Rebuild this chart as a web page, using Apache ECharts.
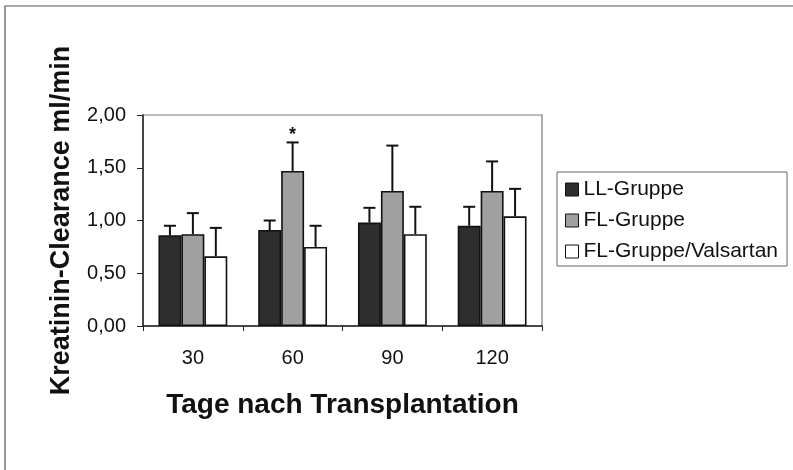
<!DOCTYPE html>
<html>
<head>
<meta charset="utf-8">
<script src="https://cdn.jsdelivr.net/npm/echarts@6/dist/echarts.min.js"></script>
<style>
  html, body { margin: 0; padding: 0; background: #fff; }
  #chart { width: 793px; height: 470px; }
</style>
</head>
<body>
<div id="chart"></div>
<script>
// Days after transplantation
const days = ['30', '60', '90', '120'];

// Creatinine clearance, mean values (ml/min)
const llMean  = [0.86, 0.91, 0.98, 0.95];
const flMean  = [0.87, 1.47, 1.28, 1.28];
const flvMean = [0.66, 0.75, 0.87, 1.04];

// Standard deviations (drawn upward from the bar top)
const llSd  = [0.09, 0.09, 0.14, 0.18];
const flSd  = [0.20, 0.27, 0.43, 0.28];
const flvSd = [0.27, 0.20, 0.26, 0.26];

// Significance marks per day for the FL group
const flSig = ['', '*', '', ''];

const groupNames = ['LL-Gruppe', 'FL-Gruppe', 'FL-Gruppe/Valsartan'];
const fills = ['#2e2e2e', '#a0a0a0', '#ffffff'];

const CATEGORY_GAP = 0.31;
const FONT = 'Arial, "Liberation Sans", sans-serif';

function errorSeries(means, sds, slot, marks) {
  return {
    type: 'custom',
    silent: true,
    z: 5,
    data: means.map((m, i) => [i, m, m + sds[i], marks ? marks[i] : '']),
    renderItem: function (params, api) {
      const idx = api.value(0);
      const base = api.coord([idx, api.value(1)]);
      const top = api.coord([idx, api.value(2)]);
      const band = api.size([1, 0])[0];
      const bw = band * (1 - CATEGORY_GAP) / 3;
      const x = base[0] + (slot - 1) * bw;
      const cap = 6;
      const children = [
        { type: 'line', shape: { x1: x, y1: base[1], x2: x, y2: top[1] },
          style: { stroke: '#111', lineWidth: 2 } },
        { type: 'line', shape: { x1: x - cap, y1: top[1], x2: x + cap, y2: top[1] },
          style: { stroke: '#111', lineWidth: 2 } }
      ];
      const mark = api.value(3);
      if (mark) {
        children.push({
          type: 'text',
          style: { x: x, y: top[1] + 2, text: mark, fill: '#111',
                   font: 'bold 18px ' + FONT, align: 'center', verticalAlign: 'bottom' }
        });
      }
      return { type: 'group', children: children };
    }
  };
}

const barSeries = [llMean, flMean, flvMean].map((vals, k) => ({
  name: groupNames[k],
  type: 'bar',
  data: vals,
  barGap: '0%',
  barCategoryGap: (CATEGORY_GAP * 100) + '%',
  itemStyle: { color: fills[k], borderColor: '#111', borderWidth: 1.6 }
}));

const chart = echarts.init(document.getElementById('chart'), null, { renderer: 'canvas' });

chart.setOption({
  animation: false,
  backgroundColor: '#fff',
  textStyle: { fontFamily: FONT, color: '#111' },
  graphic: [
    { type: 'polyline', shape: { points: [[5, 470], [5, 6], [793, 6]] },
      style: { stroke: '#555', lineWidth: 1.2, fill: null } }
  ],
  grid: {
    left: 143, right: 251, top: 115, bottom: 144,
    show: true, borderColor: '#7a7a7a', borderWidth: 1.2, backgroundColor: 'transparent'
  },
  legend: {
    orient: 'vertical',
    left: 557, top: 172,
    padding: [7, 9, 4, 8],
    itemGap: 10,
    itemWidth: 13, itemHeight: 13,
    itemStyle: { borderColor: '#111', borderWidth: 1 },
    icon: 'rect',
    borderColor: '#666', borderWidth: 1,
    textStyle: { fontSize: 21, fontFamily: FONT, color: '#111', padding: [0, 0, 0, 0] },
    data: groupNames
  },
  xAxis: {
    type: 'category',
    data: days,
    name: 'Tage nach Transplantation',
    nameLocation: 'middle',
    nameGap: 65,
    nameTextStyle: { fontSize: 28, fontWeight: 'bold', fontFamily: FONT, color: '#111' },
    axisLine: { lineStyle: { color: '#222', width: 1.5 } },
    axisTick: { show: true, length: 5, lineStyle: { color: '#222' } },
    axisLabel: { fontSize: 20, margin: 22, color: '#111', fontFamily: FONT }
  },
  yAxis: {
    type: 'value',
    min: 0, max: 2, interval: 0.5,
    name: 'Kreatinin-Clearance ml/min',
    nameLocation: 'middle',
    nameGap: 68,
    nameTextStyle: { fontSize: 27, fontWeight: 'bold', fontFamily: FONT, color: '#111' },
    axisLine: { show: true, lineStyle: { color: '#222', width: 1.5 } },
    axisTick: { show: true, length: 6, lineStyle: { color: '#222' } },
    splitLine: { show: false },
    axisLabel: {
      fontSize: 20, margin: 17, color: '#111', fontFamily: FONT,
      formatter: v => v.toFixed(2).replace('.', ',')
    }
  },
  series: [
    ...barSeries,
    errorSeries(llMean, llSd, 0),
    errorSeries(flMean, flSd, 1, flSig),
    errorSeries(flvMean, flvSd, 2)
  ]
});
</script>
</body>
</html>
